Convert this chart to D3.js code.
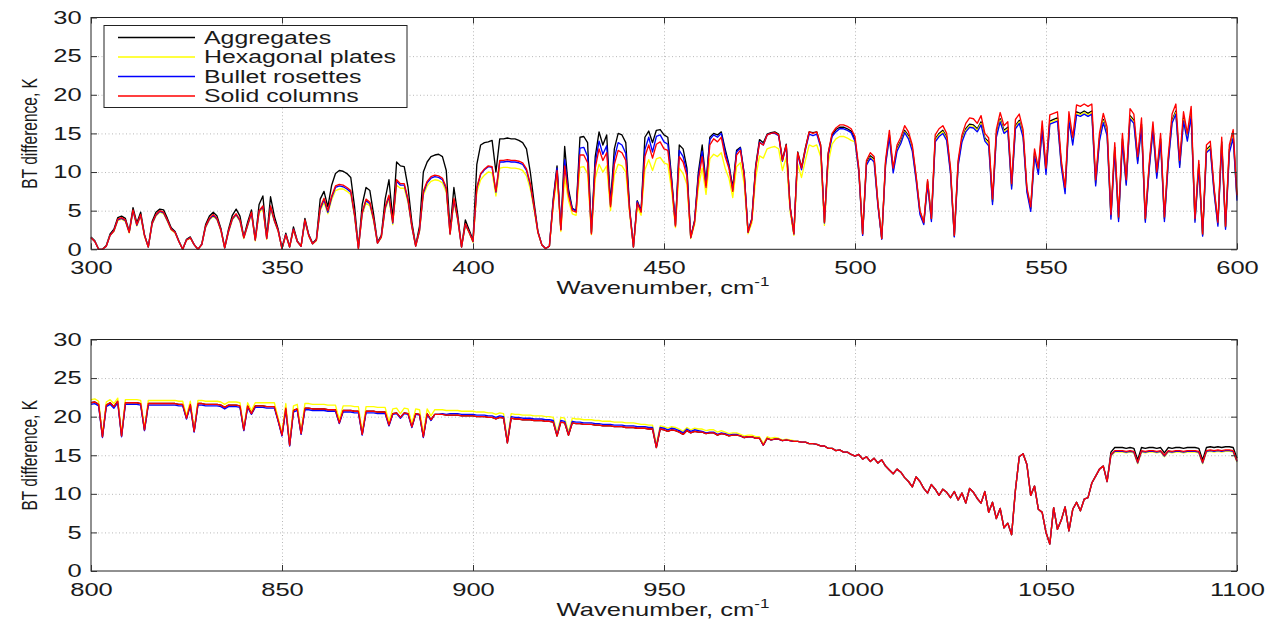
<!DOCTYPE html>
<html>
<head>
<meta charset="utf-8">
<script src="https://cdn.jsdelivr.net/npm/d3@7"></script>
<style>
  body { margin: 0; background: #fff; }
  svg { display: block; font-family: 'Liberation Sans', Arial, sans-serif; }
  .grid line { stroke: #b8b8b8; stroke-dasharray: 1,2.5; }
  .grid path { display: none; }
  .axis path { display: none; }
  .axis line { stroke: #333; }
  .axis text { fill: #1a1a1a; font-size: 18px; }
</style>
</head>
<body>
<div id="chart"></div>
<script>
// series names, legend order
const seriesNames = ['Aggregates', 'Hexagonal plates', 'Bullet rosettes', 'Solid columns'];
const seriesColors = ['#000000', '#ffff00', '#0000ff', '#ff0000'];

// top panel: 300..600 cm-1, one value per cm-1
const topStart = 300;
const topTicksX = [300, 350, 400, 450, 500, 550, 600];

const topAggregates = [
  1.6,1.1,0,0,0.5,2.0,2.6,4.1,4.3,4.0,
  2.3,5.4,3.4,4.8,1.9,0.3,3.6,4.8,5.2,5.1,
  4.0,2.8,2.3,1.1,0,1.3,1.6,0.6,0,0.7,
  3.2,4.3,4.8,4.3,2.7,0.2,2.6,4.4,5.2,4.3,
  1.6,3.5,5.1,1.3,5.8,6.9,1.6,6.8,4.3,2.6,
  0.1,2.1,0.3,2.9,1.1,0.4,4.0,1.9,0.8,1.3,
  6.5,7.5,5.5,8.3,9.8,10.2,10.1,9.8,9.3,5.5,
  0.2,5.8,8.0,7.6,4.5,0.9,1.8,6.5,9.0,4.0,
  11.3,10.8,10.7,8.0,3.5,0.5,3.0,10.0,11.3,12.0,
  12.2,12.3,12.0,10.2,2.5,8.0,4.5,0.3,3.8,2.5,
  1.2,11.0,13.5,13.8,13.9,14.1,10.0,14.3,14.3,14.4,
  14.3,14.3,14.1,13.8,13.0,10.0,6.0,2.3,0.6,0.1,
  0.4,6.5,10.8,2.6,13.3,7.8,5.3,5.0,14.5,14.6,
  13.8,2.2,12.0,15.2,13.5,14.8,6.0,13.0,15.0,14.8,
  13.8,5.3,0.3,6.3,5.0,14.5,15.3,13.8,15.4,15.5,
  14.8,14.5,9.2,3.2,13.5,13.0,10.5,1.6,3.7,10.0,
  13.5,8.5,14.5,15.0,14.8,15.2,13.0,11.0,8.0,12.8,
  13.2,9.8,2.3,4.0,10.8,14.2,13.8,14.9,15.1,15.2,
  14.9,11.6,13.6,5.6,2.0,12.6,10.6,13.1,15.2,15.1,
  15.2,13.5,3.5,12.4,14.8,15.5,15.8,15.8,15.6,15.3,
  14.2,10.2,2.0,11.2,12.1,11.7,5.9,1.4,11.2,14.8,
  10.3,13.1,14.0,15.4,14.7,13.1,9.3,4.9,3.4,8.8,
  3.9,14.3,15.0,15.4,14.5,10.2,1.7,11.2,14.3,15.6,
  16.2,16.1,15.6,16.5,14.4,13.9,6.2,14.9,16.9,15.4,
  15.8,8.2,16.0,16.7,14.9,7.7,5.3,12.5,10.2,15.8,
  10.2,16.6,16.8,17.0,11.1,7.7,17.0,14.0,17.8,17.6,
  17.9,17.6,17.9,8.6,14.4,16.8,15.1,4.3,13.2,4.0,
  14.3,8.6,17.3,16.7,11.5,16.2,3.8,10.6,15.8,9.6,
  14.3,4.0,11.5,16.7,17.9,11.0,17.0,14.4,17.6,3.8,
  11.0,1.9,12.9,13.4,7.7,3.3,13.9,2.9,12.9,14.8,6.7
];

const topHexPlates = [
  1.5,1.0,0,0,0.4,1.8,2.3,3.7,3.9,3.6,
  2.1,4.9,3.0,4.3,1.7,0.3,3.2,4.3,4.8,4.6,
  3.6,2.5,2.1,1.0,0,1.2,1.4,0.6,0,0.6,
  2.8,3.8,4.3,3.8,2.4,0.2,2.2,3.8,4.4,3.6,
  1.4,3.0,4.6,1.1,4.7,5.3,1.3,5.3,3.6,2.3,
  0.1,1.8,0.3,2.5,1.0,0.4,3.6,1.7,0.7,1.1,
  5.0,6.1,4.6,6.4,7.6,7.8,7.8,7.5,7.1,4.2,
  0.1,4.5,6.0,5.6,3.6,0.8,1.5,5.1,6.5,3.2,
  8.3,7.9,7.9,6.0,2.8,0.4,2.3,7.0,8.2,8.8,
  9.0,8.9,8.6,7.4,1.9,6.1,3.7,0.3,3.1,2.1,
  0.9,7.4,9.0,9.6,10.0,9.9,6.9,10.5,10.6,10.6,
  10.5,10.5,10.4,10.2,9.5,7.8,5.1,2.1,0.6,0.1,
  0.4,5.6,9.3,2.3,9.3,6.3,4.6,4.4,10.6,10.7,
  9.8,1.9,9.2,11.0,10.0,10.8,5.0,9.6,11.0,10.8,
  10.0,4.6,0.3,5.5,4.4,10.3,11.6,10.2,11.7,11.9,
  11.2,11.0,7.6,2.8,10.5,9.8,8.4,1.4,3.2,8.0,
  10.5,7.1,11.7,12.3,12.0,12.5,10.5,9.2,6.7,10.7,
  11.2,8.4,2.0,3.4,9.2,12.1,11.8,13.0,13.2,13.3,
  13.0,10.2,11.9,4.9,1.8,11.0,9.3,11.5,13.5,13.3,
  13.5,12.0,3.1,11.2,13.6,14.3,14.6,14.6,14.4,14.1,
  13.9,10.0,2.0,11.0,11.9,11.5,5.9,1.4,11.0,14.6,
  10.1,12.9,13.8,15.2,14.5,12.9,9.1,4.8,3.3,8.6,
  3.8,14.1,14.8,15.2,14.3,10.0,1.7,11.0,14.1,15.4,
  16.0,15.9,15.4,16.3,14.2,13.7,6.1,14.7,16.7,15.2,
  15.6,8.0,15.8,16.5,14.7,7.6,5.2,12.3,10.0,15.6,
  10.0,16.4,16.6,16.8,10.9,7.5,16.8,13.8,17.6,17.4,
  17.7,17.4,17.7,8.4,14.2,16.6,14.9,4.2,13.0,3.9,
  14.1,8.4,17.1,16.5,11.3,16.0,3.7,10.4,15.6,9.4,
  14.1,3.9,11.3,16.5,17.7,10.8,16.8,14.2,17.4,3.7,
  10.8,1.8,12.7,13.2,7.5,3.2,13.7,2.8,12.7,14.6,6.5
];

const topBulletRos = [
  1.5,1.0,0,0,0.4,1.8,2.4,3.8,4.0,3.7,
  2.2,5.0,3.1,4.4,1.8,0.3,3.3,4.4,4.9,4.7,
  3.7,2.6,2.2,1.0,0,1.2,1.5,0.6,0,0.6,
  2.9,3.9,4.4,3.9,2.5,0.2,2.3,3.9,4.5,3.7,
  1.5,3.1,4.7,1.2,4.9,5.5,1.4,5.5,3.7,2.4,
  0.1,1.9,0.3,2.6,1.0,0.4,3.7,1.8,0.7,1.2,
  5.2,6.4,4.8,6.7,8.0,8.2,8.1,7.8,7.4,4.4,
  0.1,4.7,6.3,5.9,3.8,0.8,1.6,5.3,6.8,3.4,
  8.8,8.3,8.3,6.3,2.9,0.4,2.4,7.3,8.6,9.2,
  9.4,9.3,9.0,7.8,2.0,6.4,3.9,0.3,3.2,2.2,
  1.0,7.9,9.7,10.3,10.7,10.6,7.4,11.3,11.3,11.4,
  11.3,11.3,11.2,11.0,10.2,8.3,5.4,2.2,0.6,0.1,
  0.4,6.2,10.5,2.6,11.6,7.3,5.2,5.0,13.1,13.2,
  12.0,2.1,11.2,14.0,12.3,13.4,5.7,11.8,13.8,13.5,
  12.4,5.1,0.3,6.2,4.9,12.9,14.5,12.6,14.6,14.8,
  13.9,13.6,8.9,3.1,12.8,12.0,10.0,1.5,3.6,9.5,
  12.7,8.3,14.2,14.8,14.5,15.0,12.6,10.8,7.7,12.6,
  13.1,9.7,2.2,3.9,10.6,13.9,13.5,14.8,15.0,15.0,
  14.7,11.4,13.4,5.4,2.0,12.3,10.3,12.8,14.9,14.7,
  14.9,13.2,3.4,12.2,14.6,15.2,15.6,15.6,15.4,15.1,
  14.0,10.0,1.8,10.9,11.8,11.3,5.6,1.3,10.9,14.5,
  9.9,12.7,13.7,15.1,14.3,12.7,8.9,4.5,3.2,8.4,
  3.6,13.9,14.6,15.0,14.1,9.8,1.6,10.8,13.9,15.2,
  15.8,15.7,15.2,16.1,14.0,13.4,5.8,14.5,16.5,15.0,
  15.4,7.8,15.6,16.3,14.5,7.4,4.9,12.1,9.7,15.4,
  9.7,16.2,16.4,16.6,10.7,7.2,16.6,13.5,17.4,17.2,
  17.5,17.2,17.5,8.2,14.0,16.4,14.7,3.9,12.8,3.6,
  13.9,8.3,16.9,16.3,11.1,15.8,3.5,10.2,15.4,9.2,
  13.9,3.6,11.1,16.3,17.5,10.6,16.6,14.0,17.2,3.5,
  10.6,1.7,12.5,13.0,7.3,3.0,13.5,2.6,12.5,14.4,6.3
];

const topSolidCol = [
  1.5,1.0,0,0,0.4,1.8,2.4,3.9,4.1,3.8,
  2.2,5.1,3.2,4.5,1.8,0.3,3.4,4.5,5.0,4.8,
  3.8,2.6,2.2,1.0,0,1.2,1.5,0.6,0,0.6,
  3.0,4.0,4.5,4.0,2.5,0.2,2.4,4.0,4.6,3.8,
  1.5,3.2,4.8,1.2,5.0,5.6,1.4,5.6,3.8,2.4,
  0.1,1.9,0.3,2.6,1.0,0.4,3.8,1.8,0.7,1.2,
  5.4,6.6,5.0,6.9,8.2,8.4,8.3,8.0,7.6,4.5,
  0.1,4.8,6.5,6.1,3.9,0.8,1.6,5.5,7.0,3.5,
  9.0,8.5,8.5,6.5,3.0,0.4,2.5,7.5,8.8,9.4,
  9.6,9.5,9.2,8.0,2.0,6.6,4.0,0.3,3.3,2.2,
  1.0,8.0,9.8,10.4,10.8,10.7,7.5,11.5,11.5,11.6,
  11.5,11.5,11.4,11.2,10.4,8.5,5.5,2.2,0.6,0.1,
  0.4,6.0,10.2,2.5,10.8,7.0,5.0,4.8,12.2,12.2,
  11.2,2.0,10.5,13.0,11.5,12.5,5.5,11.0,12.8,12.5,
  11.5,5.0,0.3,6.0,4.8,12.0,13.5,11.8,13.6,13.9,
  13.0,12.8,8.5,3.0,12.0,11.3,9.5,1.5,3.5,9.0,
  12.0,8.0,13.5,14.3,13.9,14.5,12.0,10.5,7.5,12.2,
  12.8,9.5,2.2,3.8,10.5,13.8,13.5,14.8,15.0,15.1,
  14.8,11.5,13.5,5.5,2.0,12.5,10.5,13.0,15.2,15.0,
  15.2,13.5,3.5,12.5,15.0,15.7,16.1,16.1,15.9,15.6,
  14.6,10.5,2.0,11.5,12.5,12.0,6.0,1.4,11.5,15.4,
  10.5,13.5,14.5,16.0,15.2,13.5,9.5,5.0,3.5,9.0,
  4.0,14.8,15.6,16.0,15.0,10.5,1.8,11.5,14.8,16.3,
  17.0,16.9,16.3,17.3,15.0,14.4,6.5,15.5,17.7,16.0,
  16.5,8.5,16.8,17.5,15.5,8.0,5.5,13.0,10.5,16.6,
  10.5,17.4,17.6,17.8,11.5,8.0,17.8,14.5,18.7,18.5,
  18.8,18.5,18.8,9.0,15.0,17.6,15.8,4.5,13.8,4.2,
  15.0,9.0,18.2,17.5,12.0,17.0,4.0,11.0,16.5,10.0,
  15.0,4.2,12.0,17.5,18.8,11.5,17.8,15.0,18.5,4.0,
  11.5,2.0,13.5,14.0,8.0,3.5,14.5,3.0,13.5,15.5,7.0
];

// bottom panel: 800..1100 cm-1, one value per cm-1
const botStart = 800;
const botTicksX = [800, 850, 900, 950, 1000, 1050, 1100];

const botAggregates = [
  21.8,21.9,21.6,17.4,21.5,21.8,21.3,22.0,17.5,21.8,
  21.8,21.8,21.8,21.7,18.3,21.7,21.7,21.7,21.7,21.7,
  21.7,21.7,21.7,21.6,21.6,19.8,21.6,18.1,21.7,21.7,
  21.6,21.6,21.6,21.6,21.5,21.2,21.5,21.5,21.5,21.4,
  18.3,21.4,20.4,21.4,21.4,21.4,21.3,21.3,21.3,19.5,
  17.6,21.1,16.3,20.8,21.0,17.8,21.1,21.1,21.0,21.0,
  21.0,21.0,20.9,20.9,20.9,19.2,20.8,20.8,20.8,20.7,
  20.7,17.7,20.7,20.7,20.7,20.6,20.6,20.6,18.9,20.4,
  20.5,19.9,20.5,20.4,18.7,20.4,20.3,17.4,20.4,19.6,
  20.3,20.3,20.3,20.2,20.2,20.2,20.2,20.1,20.1,20.1,
  20.1,20.0,20.0,20.0,19.9,19.9,19.7,19.9,19.8,16.6,
  19.8,19.7,19.7,19.6,19.6,19.6,19.5,19.5,19.5,19.4,
  19.4,19.3,17.5,19.3,19.2,17.6,19.2,19.1,19.1,19.0,
  19.0,19.0,18.9,18.9,18.8,18.8,18.8,18.7,18.7,18.7,
  18.6,18.6,18.6,18.5,18.5,18.5,18.4,18.4,16.0,18.4,
  18.3,18.1,18.3,18.2,18.0,17.7,18.2,17.9,18.1,18.0,
  18.0,17.8,17.9,17.9,17.6,17.8,17.7,17.5,17.6,17.6,
  17.5,17.3,17.4,17.4,17.2,17.2,16.3,17.2,17.0,17.1,
  17.1,16.9,17.0,16.9,16.8,16.8,16.7,16.7,16.5,16.5,
  16.4,16.2,16.2,15.9,15.9,15.6,15.7,15.4,15.4,15.1,
  14.9,15.1,14.5,14.8,14.2,14.6,14.0,14.4,13.6,13.1,
  12.6,13.2,12.8,12.1,11.6,10.9,12.2,11.6,10.7,10.1,
  11.2,10.6,9.8,10.6,10.2,9.5,10.3,9.2,10.1,8.8,
  10.7,10.2,9.4,8.8,10.3,7.6,8.9,6.8,8.1,5.6,
  6.2,4.7,10.5,14.8,15.2,13.8,9.8,11.0,8.0,7.6,
  5.0,3.5,8.2,5.4,6.6,8.3,5.2,8.0,8.9,7.8,
  9.3,9.5,11.4,12.3,13.2,13.6,11.6,15.4,16.0,16.0,
  16.0,15.9,16.0,15.9,14.4,16.0,15.9,16.0,16.0,15.9,
  16.0,15.3,16.0,15.9,16.0,16.0,15.9,16.0,16.0,16.0,
  15.9,14.4,16.0,16.1,16.0,16.1,16.0,16.1,16.1,16.0,
  14.6
];

const botHexPlates = [
  22.2,22.3,22.0,17.6,21.9,22.2,21.7,22.4,17.7,22.2,
  22.2,22.2,22.2,22.1,18.5,22.1,22.1,22.1,22.1,22.1,
  22.1,22.1,22.1,22.0,22.0,20.1,22.0,18.3,22.1,22.1,
  22.0,22.0,22.0,22.0,21.9,21.6,21.9,21.9,21.9,21.8,
  18.5,21.8,20.8,21.8,21.8,21.8,21.8,21.8,21.8,19.8,
  17.9,21.7,16.5,21.4,21.6,18.1,21.7,21.7,21.6,21.6,
  21.6,21.6,21.5,21.5,21.5,19.6,21.4,21.4,21.4,21.3,
  21.3,18.0,21.3,21.3,21.3,21.2,21.2,21.2,19.3,21.0,
  21.1,20.4,21.1,21.0,19.1,21.0,20.9,17.8,21.0,20.1,
  20.9,20.9,20.9,20.8,20.8,20.8,20.8,20.7,20.7,20.7,
  20.7,20.6,20.6,20.6,20.5,20.5,20.3,20.5,20.4,17.0,
  20.4,20.3,20.3,20.2,20.2,20.2,20.1,20.1,20.1,20.0,
  20.0,19.9,17.9,19.9,19.8,18.0,19.8,19.7,19.7,19.6,
  19.6,19.6,19.5,19.5,19.4,19.4,19.4,19.3,19.3,19.3,
  19.2,19.2,19.2,19.1,19.0,19.0,18.9,18.9,16.4,18.8,
  18.7,18.5,18.7,18.6,18.4,18.1,18.6,18.3,18.5,18.4,
  18.4,18.2,18.3,18.3,18.0,18.2,18.0,17.8,17.9,17.9,
  17.7,17.5,17.6,17.6,17.4,17.4,16.5,17.4,17.2,17.3,
  17.2,17.0,17.1,17.0,16.9,16.8,16.7,16.7,16.5,16.5,
  16.4,16.2,16.2,15.9,15.9,15.6,15.7,15.4,15.4,15.1,
  14.9,15.1,14.5,14.8,14.2,14.6,14.0,14.4,13.6,13.1,
  12.6,13.2,12.8,12.1,11.6,10.9,12.2,11.6,10.7,10.1,
  11.2,10.6,9.8,10.6,10.2,9.5,10.3,9.2,10.1,8.8,
  10.7,10.2,9.4,8.8,10.3,7.6,8.9,6.8,8.1,5.6,
  6.2,4.7,10.5,14.8,15.2,13.8,9.8,11.0,8.0,7.6,
  5.0,3.5,8.2,5.4,6.6,8.3,5.2,8.0,8.9,7.8,
  9.3,9.5,11.4,12.3,13.2,13.6,11.6,14.9,15.4,15.4,
  15.4,15.3,15.4,15.3,13.9,15.4,15.3,15.4,15.4,15.3,
  15.4,14.8,15.4,15.3,15.4,15.4,15.3,15.4,15.4,15.4,
  15.3,13.9,15.4,15.5,15.4,15.5,15.4,15.5,15.5,15.4,
  14.1
];

const botBulletRos = [
  21.6,21.7,21.4,17.3,21.3,21.6,21.1,21.8,17.4,21.6,
  21.6,21.6,21.6,21.5,18.2,21.5,21.5,21.5,21.5,21.5,
  21.5,21.5,21.5,21.4,21.4,19.7,21.4,18.0,21.5,21.5,
  21.4,21.4,21.4,21.4,21.3,21.0,21.3,21.3,21.3,21.2,
  18.2,21.2,20.3,21.2,21.2,21.2,21.1,21.1,21.1,19.4,
  17.5,20.9,16.2,20.6,20.8,17.7,20.9,20.9,20.8,20.8,
  20.8,20.8,20.7,20.7,20.7,19.1,20.6,20.6,20.6,20.5,
  20.5,17.6,20.5,20.5,20.5,20.4,20.4,20.4,18.8,20.3,
  20.4,19.8,20.4,20.3,18.6,20.3,20.2,17.3,20.3,19.5,
  20.3,20.3,20.4,20.3,20.4,20.4,20.4,20.3,20.3,20.3,
  20.3,20.2,20.2,20.2,20.1,20.1,19.9,20.1,20.0,16.7,
  20.0,19.9,19.9,19.8,19.8,19.8,19.7,19.7,19.7,19.6,
  19.6,19.5,17.6,19.5,19.4,17.7,19.4,19.3,19.3,19.2,
  19.2,19.2,19.1,19.1,19.0,19.0,19.0,18.9,18.9,18.9,
  18.8,18.8,18.8,18.7,18.7,18.7,18.6,18.6,16.1,18.6,
  18.5,18.3,18.5,18.4,18.2,17.9,18.4,18.1,18.3,18.2,
  18.1,17.9,18.0,18.0,17.7,17.9,17.8,17.6,17.7,17.7,
  17.5,17.3,17.4,17.4,17.2,17.2,16.3,17.2,17.0,17.1,
  17.1,16.9,17.0,16.9,16.8,16.8,16.7,16.7,16.5,16.5,
  16.4,16.2,16.2,15.9,15.9,15.6,15.7,15.4,15.4,15.1,
  14.9,15.1,14.5,14.8,14.2,14.6,14.0,14.4,13.6,13.1,
  12.6,13.2,12.8,12.1,11.6,10.9,12.2,11.6,10.7,10.1,
  11.2,10.6,9.8,10.6,10.2,9.5,10.3,9.2,10.1,8.8,
  10.7,10.2,9.4,8.8,10.3,7.6,8.9,6.8,8.1,5.6,
  6.2,4.7,10.5,14.8,15.2,13.8,9.8,11.0,8.0,7.6,
  5.0,3.5,8.2,5.4,6.6,8.3,5.2,8.0,8.9,7.8,
  9.3,9.5,11.4,12.3,13.2,13.6,11.6,15.0,15.5,15.5,
  15.5,15.4,15.5,15.4,14.0,15.5,15.4,15.5,15.5,15.4,
  15.5,14.9,15.5,15.4,15.5,15.5,15.4,15.5,15.5,15.5,
  15.4,14.0,15.5,15.6,15.5,15.6,15.5,15.6,15.6,15.5,
  14.2
];

const botSolidCol = [
  21.8,21.9,21.6,17.4,21.5,21.8,21.3,22.0,17.5,21.8,
  21.8,21.8,21.8,21.7,18.3,21.7,21.7,21.7,21.7,21.7,
  21.7,21.7,21.7,21.6,21.6,19.8,21.6,18.1,21.7,21.7,
  21.6,21.6,21.6,21.6,21.5,21.2,21.5,21.5,21.5,21.4,
  18.3,21.4,20.4,21.4,21.4,21.4,21.3,21.3,21.3,19.5,
  17.6,21.1,16.3,20.8,21.0,17.8,21.1,21.1,21.0,21.0,
  21.0,21.0,20.9,20.9,20.9,19.2,20.8,20.8,20.8,20.7,
  20.7,17.7,20.7,20.7,20.7,20.6,20.6,20.6,18.9,20.4,
  20.5,19.9,20.5,20.4,18.7,20.4,20.3,17.4,20.4,19.6,
  20.3,20.3,20.3,20.2,20.2,20.2,20.2,20.1,20.1,20.1,
  20.1,20.0,20.0,20.0,19.9,19.9,19.7,19.9,19.8,16.6,
  19.8,19.7,19.7,19.6,19.6,19.6,19.5,19.5,19.5,19.4,
  19.4,19.3,17.5,19.3,19.2,17.6,19.2,19.1,19.1,19.0,
  19.0,19.0,18.9,18.9,18.8,18.8,18.8,18.7,18.7,18.7,
  18.6,18.6,18.6,18.5,18.5,18.5,18.4,18.4,16.0,18.4,
  18.3,18.1,18.3,18.2,18.0,17.7,18.2,17.9,18.1,18.0,
  18.0,17.8,17.9,17.9,17.6,17.8,17.7,17.5,17.6,17.6,
  17.5,17.3,17.4,17.4,17.2,17.2,16.3,17.2,17.0,17.1,
  17.1,16.9,17.0,16.9,16.8,16.8,16.7,16.7,16.5,16.5,
  16.4,16.2,16.2,15.9,15.9,15.6,15.7,15.4,15.4,15.1,
  14.9,15.1,14.5,14.8,14.2,14.6,14.0,14.4,13.6,13.1,
  12.6,13.2,12.8,12.1,11.6,10.9,12.2,11.6,10.7,10.1,
  11.2,10.6,9.8,10.6,10.2,9.5,10.3,9.2,10.1,8.8,
  10.7,10.2,9.4,8.8,10.3,7.6,8.9,6.8,8.1,5.6,
  6.2,4.7,10.5,14.8,15.2,13.8,9.8,11.0,8.0,7.6,
  5.0,3.5,8.2,5.4,6.6,8.3,5.2,8.0,8.9,7.8,
  9.3,9.5,11.4,12.3,13.2,13.6,11.6,15.1,15.6,15.6,
  15.6,15.5,15.6,15.5,14.1,15.6,15.5,15.6,15.6,15.5,
  15.6,15.0,15.6,15.5,15.6,15.6,15.5,15.6,15.6,15.6,
  15.5,14.1,15.6,15.7,15.6,15.7,15.6,15.7,15.7,15.6,
  14.3
];

const yTicks = [0, 5, 10, 15, 20, 25, 30];

// the source image is stretched sideways, so text is too
const SX = 1.42;
const width = 1268;
const height = 619;
const plotLeft = 91;
const plotRight = 1237;

const svg = d3.select('#chart').append('svg')
  .attr('width', width)
  .attr('height', height);

svg.append('rect').attr('width', width).attr('height', height).attr('fill', '#fff');

function drawPanel(opts) {
  const { start, ticksX, series, top, bottom, legend } = opts;
  const end = start + series[0].length - 1;

  const scaleX = d3.scaleLinear().domain([start, end]).range([plotLeft, plotRight]);
  const scaleY = d3.scaleLinear().domain([0, 30]).range([bottom, top]);

  const $g = svg.append('g');

  // dotted grid
  $g.append('g').attr('class', 'grid')
    .attr('transform', `translate(0,${bottom})`)
    .call(d3.axisBottom(scaleX).tickValues(ticksX.slice(1, -1)).tickSize(-(bottom - top)).tickFormat(''));
  $g.append('g').attr('class', 'grid')
    .attr('transform', `translate(${plotLeft},0)`)
    .call(d3.axisLeft(scaleY).tickValues(yTicks.slice(1, -1)).tickSize(-(plotRight - plotLeft)).tickFormat(''));

  // lines
  const line = d3.line()
    .x((d, i) => scaleX(start + i))
    .y(d => scaleY(d));

  series.forEach((vals, k) => {
    $g.append('path')
      .datum(vals)
      .attr('fill', 'none')
      .attr('stroke', seriesColors[k])
      .attr('stroke-width', 1.35)
      .attr('stroke-linejoin', 'round')
      .attr('d', line);
  });

  // box
  $g.append('rect')
    .attr('x', plotLeft).attr('y', top)
    .attr('width', plotRight - plotLeft).attr('height', bottom - top)
    .attr('fill', 'none').attr('stroke', '#222').attr('stroke-width', 1);

  // axes with inward ticks on all four sides
  const $xb = $g.append('g').attr('class', 'axis')
    .attr('transform', `translate(0,${bottom})`)
    .call(d3.axisBottom(scaleX).tickValues(ticksX).tickFormat(d3.format('d'))
      .tickSizeInner(-6).tickSizeOuter(0).tickPadding(12));
  $xb.selectAll('text').attr('transform', `scale(${SX},1)`);

  $g.append('g').attr('class', 'axis')
    .attr('transform', `translate(0,${top})`)
    .call(d3.axisTop(scaleX).tickValues(ticksX).tickSizeInner(-6).tickSizeOuter(0).tickFormat(''));

  const $yl = $g.append('g').attr('class', 'axis')
    .attr('transform', `translate(${plotLeft},0)`)
    .call(d3.axisLeft(scaleY).tickValues(yTicks).tickFormat(d3.format('d'))
      .tickSizeInner(-6).tickSizeOuter(0).tickPadding(6.5));
  $yl.selectAll('text').attr('transform', `scale(${SX},1)`);

  $g.append('g').attr('class', 'axis')
    .attr('transform', `translate(${plotRight},0)`)
    .call(d3.axisRight(scaleY).tickValues(yTicks).tickSizeInner(-6).tickSizeOuter(0).tickFormat(''));

  // axis titles
  const $xt = $g.append('text')
    .attr('transform', `translate(663,${bottom + 45}) scale(${SX},1)`)
    .attr('text-anchor', 'middle')
    .attr('font-size', 18)
    .attr('fill', '#1a1a1a');
  $xt.append('tspan').text('Wavenumber, cm');
  $xt.append('tspan').attr('font-size', 12).attr('dy', -8).text('-1');

  $g.append('text')
    .attr('transform', `translate(37,${(top + bottom) / 2}) scale(${SX},1) rotate(-90)`)
    .attr('text-anchor', 'middle')
    .attr('font-size', 15.5)
    .attr('fill', '#1a1a1a')
    .text('BT difference, K');

  if (legend) {
    const $leg = $g.append('g').attr('class', 'legend');
    $leg.append('rect')
      .attr('x', 104).attr('y', 25.5)
      .attr('width', 303).attr('height', 82)
      .attr('fill', '#fff').attr('stroke', '#222');
    seriesNames.forEach((name, k) => {
      const ly = 37.5 + k * 19.5;
      $leg.append('line')
        .attr('x1', 118).attr('x2', 195)
        .attr('y1', ly).attr('y2', ly)
        .attr('stroke', seriesColors[k]).attr('stroke-width', 1.3);
      $leg.append('text')
        .attr('transform', `translate(204,${ly + 6}) scale(${SX},1)`)
        .attr('font-size', 17.5)
        .attr('fill', '#1a1a1a')
        .text(name);
    });
  }
}

drawPanel({
  start: topStart,
  ticksX: topTicksX,
  series: [topAggregates, topHexPlates, topBulletRos, topSolidCol],
  top: 17.5,
  bottom: 249.3,
  legend: true
});

drawPanel({
  start: botStart,
  ticksX: botTicksX,
  series: [botAggregates, botHexPlates, botBulletRos, botSolidCol],
  top: 339.5,
  bottom: 571,
  legend: false
});
</script>
</body>
</html>
